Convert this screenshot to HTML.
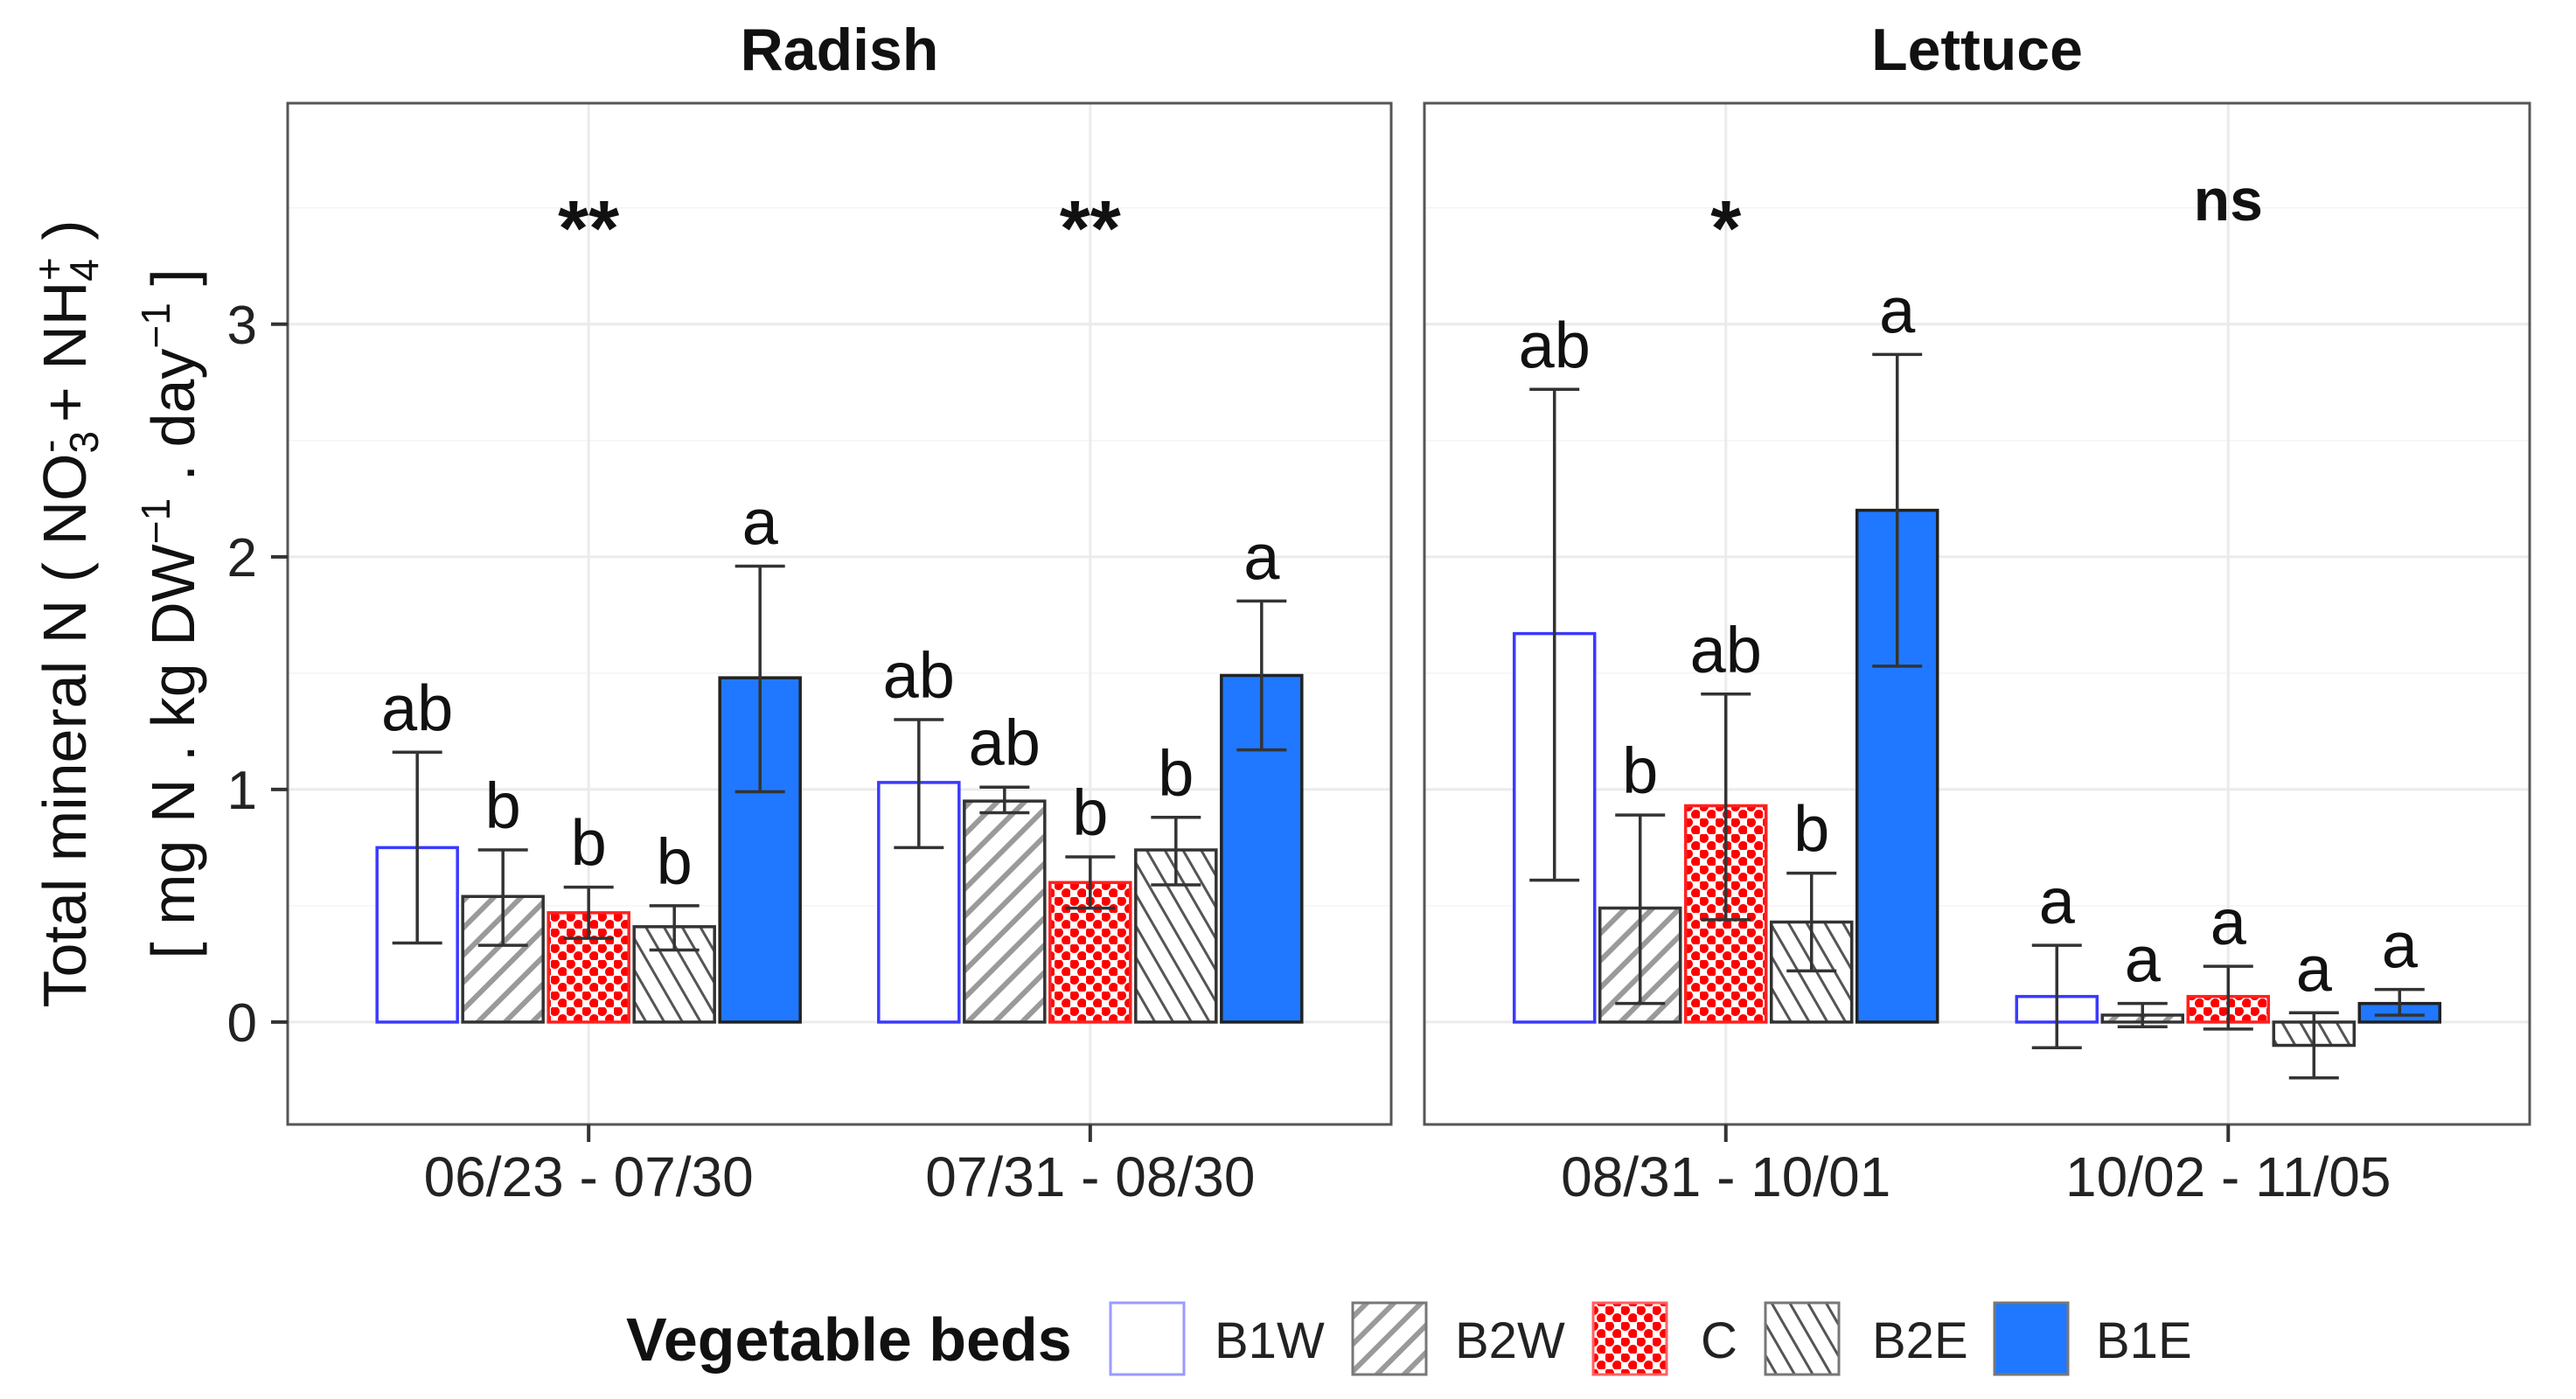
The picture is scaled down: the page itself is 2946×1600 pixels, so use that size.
<!DOCTYPE html>
<html><head><meta charset="utf-8"><style>
html,body{margin:0;padding:0;background:#fff;}
svg{display:block;font-family:"Liberation Sans",Arial,sans-serif;}
</style></head><body>
<svg id="chart" width="2946" height="1600" viewBox="0 0 2946 1600" xmlns="http://www.w3.org/2000/svg">
<defs>
<pattern id="pB2W" patternUnits="userSpaceOnUse" width="22" height="22" patternTransform="rotate(45)">
<rect width="22" height="22" fill="#fff"/><rect x="0" y="0" width="6" height="22" fill="#9a9a9a"/></pattern>
<pattern id="pB2E" patternUnits="userSpaceOnUse" width="18" height="18" patternTransform="rotate(-30)">
<rect width="18" height="18" fill="#fff"/><rect x="0" y="0" width="3" height="18" fill="#555"/></pattern>
<pattern id="pC" patternUnits="userSpaceOnUse" width="18" height="18">
<rect width="18" height="18" fill="#fff"/><circle cx="4.5" cy="4.5" r="5.5" fill="#f00"/><circle cx="13.5" cy="13.5" r="5.5" fill="#f00"/></pattern>
</defs>
<g id="grid"></g>
<g id="bars"></g>
<g id="frame"></g>
<g id="labels"></g>
<g id="legend"></g>
</svg>
<script>
const panels = ["Radish", "Lettuce"];
const periods = [["06/23 - 07/30", "07/31 - 08/30"], ["08/31 - 10/01", "10/02 - 11/05"]];
const beds = ["B1W", "B2W", "C", "B2E", "B1E"];
const yTicks = [0, 1, 2, 3];
const sigLabels = ["**", "**", "*", "ns"];
const means = [
  [0.75, 0.54, 0.47, 0.41, 1.48],
  [1.03, 0.95, 0.60, 0.74, 1.49],
  [1.67, 0.49, 0.93, 0.43, 2.20],
  [0.11, 0.03, 0.11, -0.10, 0.08]
];
const errLow = [
  [0.34, 0.33, 0.36, 0.31, 0.99],
  [0.75, 0.90, 0.49, 0.59, 1.17],
  [0.61, 0.08, 0.44, 0.22, 1.53],
  [-0.11, -0.02, -0.03, -0.24, 0.03]
];
const errHigh = [
  [1.16, 0.74, 0.58, 0.50, 1.96],
  [1.30, 1.01, 0.71, 0.88, 1.81],
  [2.72, 0.89, 1.41, 0.64, 2.87],
  [0.33, 0.08, 0.24, 0.04, 0.14]
];
const letters = [
  ["ab", "b", "b", "b", "a"],
  ["ab", "ab", "b", "b", "a"],
  ["ab", "b", "ab", "b", "a"],
  ["a", "a", "a", "a", "a"]
];

const NS = "http://www.w3.org/2000/svg";
function mk(tag, attrs, parent, text) {
  const e = document.createElementNS(NS, tag);
  for (const k in attrs) e.setAttribute(k, attrs[k]);
  if (text !== undefined) e.textContent = text;
  parent.appendChild(e);
  return e;
}
const panelBox = [{x0: 329, x1: 1591}, {x0: 1629, x1: 2893}];
const yTop = 118, yBot = 1286, yMin = -0.44, yMax = 3.95;
function yS(v) { return yBot - (v - yMin) / (yMax - yMin) * (yBot - yTop); }
function xS(p, i) { const b = panelBox[p]; return b.x0 + (i + 1 - 0.4) / 2.2 * (b.x1 - b.x0); }
const fills = {B1W: "#fff", B2W: "url(#pB2W)", C: "url(#pC)", B2E: "url(#pB2E)", B1E: "#1f78ff"};
const strokes = {B1W: "#3a3aff", B2W: "#333", C: "#ff2020", B2E: "#333", B1E: "#222"};
const step = 98, bw = 92, capW = 57;

const grid = document.getElementById('grid');
const barsG = document.getElementById('bars');
const frame = document.getElementById('frame');
const labels = document.getElementById('labels');
const legend = document.getElementById('legend');

panels.forEach((pn, p) => {
  const b = panelBox[p];
  for (let v = -0.5; v <= 3.5; v += 1) {
    if (v < yMin) continue;
    const l = mk('line', {x1: b.x0, x2: b.x1, y1: yS(v), y2: yS(v), stroke: '#f4f4f4', 'stroke-width': 1.5}, grid);
    
    
  }
  yTicks.forEach(t => {
    const l = mk('line', {x1: b.x0, x2: b.x1, y1: yS(t), y2: yS(t), stroke: '#ebebeb', 'stroke-width': 3}, grid);
    
    
  });
  [0, 1].forEach(i => {
    const l = mk('line', {x1: xS(p, i), x2: xS(p, i), y1: yTop, y2: yBot, stroke: '#ebebeb', 'stroke-width': 3}, grid);
    
    
  });
  const fr = mk('rect', {x: b.x0, y: yTop, width: b.x1 - b.x0, height: yBot - yTop, fill: 'none', stroke: '#555', 'stroke-width': 3}, frame);
  
  
  const title = mk('text', {x: (b.x0 + b.x1) / 2, y: 80, 'text-anchor': 'middle', 'font-size': 68, 'font-weight': 'bold', fill: '#111'}, labels, pn);
  
  

  periods[p].forEach((per, i) => {
    const g = p * 2 + i;
    const cx = xS(p, i);
    const tk = mk('line', {x1: cx, x2: cx, y1: yBot, y2: yBot + 20, stroke: '#333', 'stroke-width': 4}, frame);
    
    
    const tl = mk('text', {x: cx, y: 1368, 'text-anchor': 'middle', 'font-size': 64, fill: '#222'}, labels, per);
    
    
    const isNs = sigLabels[g] === 'ns';
    const sig = mk('text', {x: cx, y: isNs ? 252 : 292, 'text-anchor': 'middle', 'font-size': isNs ? 68 : 90, 'font-weight': 'bold', fill: '#111'}, labels, sigLabels[g]);
    
    
    beds.forEach((bed, k) => {
      const bx = cx + (k - 2) * step;
      const v = means[g][k];
      const top = Math.min(yS(v), yS(0)), h = Math.abs(yS(v) - yS(0));
      const r = mk('rect', {x: bx - bw / 2, y: top, width: bw, height: h, fill: fills[bed], stroke: strokes[bed], 'stroke-width': 3.5}, barsG);
      
      
      const eh = yS(errHigh[g][k]), el = yS(errLow[g][k]);
      const e1 = mk('path', {d: `M${bx - capW / 2},${eh}H${bx + capW / 2}M${bx},${eh}V${el}M${bx - capW / 2},${el}H${bx + capW / 2}`, stroke: '#333', 'stroke-width': 3.5, fill: 'none'}, barsG);
      
      
      const lt = mk('text', {x: bx, y: eh - 25, 'text-anchor': 'middle', 'font-size': 74, fill: '#111'}, labels, letters[g][k]);
      
      
    });
  });
});

yTicks.forEach(t => {
  const tk = mk('line', {x1: 310, x2: 329, y1: yS(t), y2: yS(t), stroke: '#333', 'stroke-width': 4}, frame);
  
  
  const tl = mk('text', {x: 294, y: yS(t) + 22, 'text-anchor': 'end', 'font-size': 62, fill: '#222'}, labels, String(t));
  
  
});
const yt1 = mk('text', {x: 0, y: 0, transform: 'translate(98,702) rotate(-90)', 'text-anchor': 'middle', 'font-size': 70, fill: '#111'}, labels);


yt1.innerHTML = 'Total mineral N ( NO<tspan font-size="46" dy="14">3</tspan><tspan font-size="46" dy="-40" dx="-25">-</tspan><tspan dy="26"> + NH</tspan><tspan font-size="46" dy="14">4</tspan><tspan font-size="46" dy="-40" dx="-25">+</tspan><tspan dy="26"> )</tspan>';
const yt2 = mk('text', {x: 0, y: 0, transform: 'translate(222,702) rotate(-90)', 'text-anchor': 'middle', 'font-size': 70, fill: '#111'}, labels);


yt2.innerHTML = '[ mg N . kg DW<tspan font-size="46" dy="-28">−1</tspan><tspan dy="28"> . day</tspan><tspan font-size="46" dy="-28">−1</tspan><tspan dy="28"> ]</tspan>';

const lt = mk('text', {x: 716, y: 1556, 'font-size': 70, 'font-weight': 'bold', fill: '#111'}, legend, 'Vegetable beds');


const legX = [1270, 1547, 1822, 2019, 2281];
const legLabX = [1389, 1664, 1945, 2141, 2397];
beds.forEach((bed, k) => {
  const g = mk('g', {}, legend);
  
  
  const r = mk('rect', {x: legX[k], y: 1490, width: 84, height: 82, fill: fills[bed], stroke: bed === 'B1W' ? '#9a9aff' : (bed === 'C' ? '#ff6060' : '#777'), 'stroke-width': 3}, g);
  
  
  const t = mk('text', {x: legLabX[k], y: 1553, 'font-size': 58, fill: '#222'}, g, bed);
  
  
});
</script>
</body></html>
